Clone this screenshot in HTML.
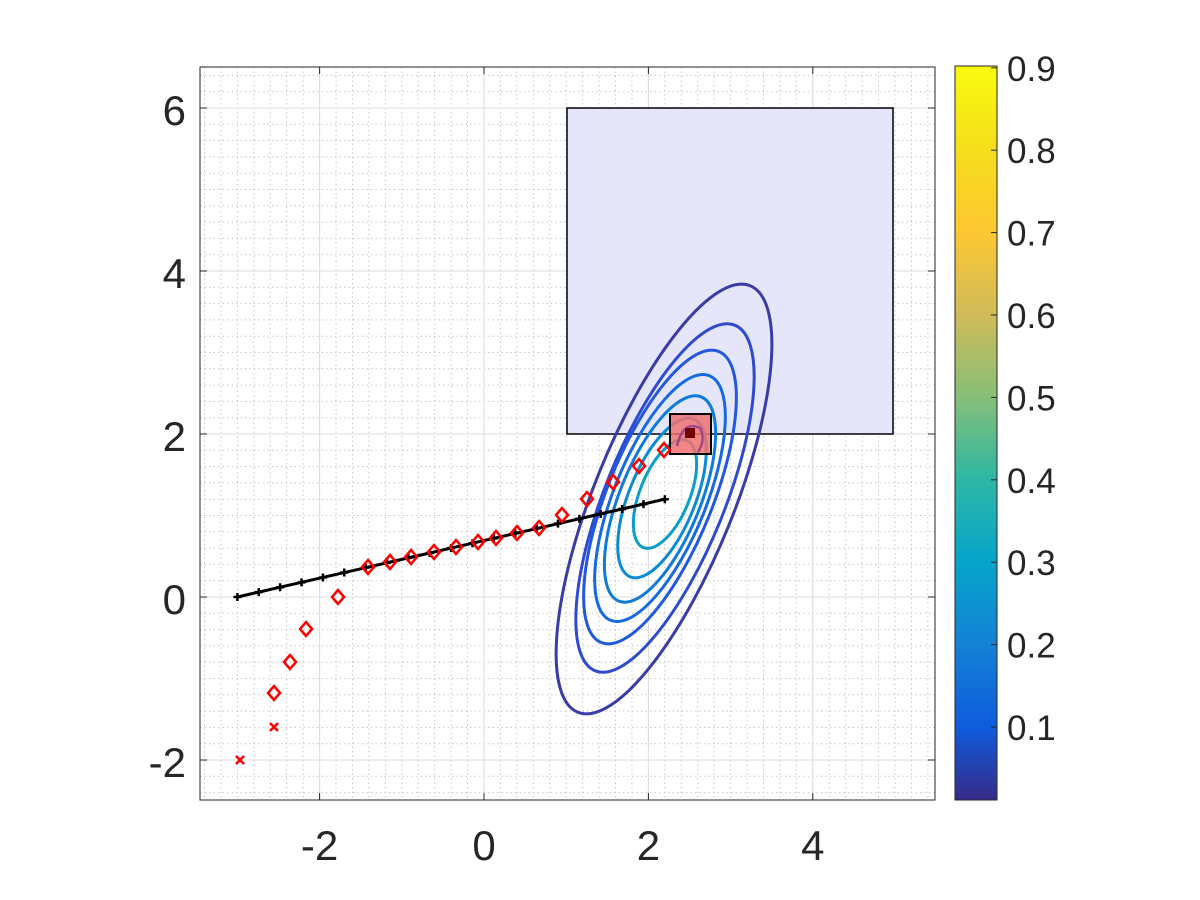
<!DOCTYPE html>
<html><head><meta charset="utf-8"><style>
html,body{margin:0;padding:0;background:#fff;}
svg{display:block;font-family:"Liberation Sans",Arial,sans-serif;}
</style></head><body>
<svg id="s" width="1200" height="900" viewBox="0 0 1200 900" xmlns="http://www.w3.org/2000/svg">
<defs>
<linearGradient id="par" x1="0" y1="1" x2="0" y2="0">
<stop offset="0" stop-color="#352a87"/>
<stop offset="0.10" stop-color="#0f5cdd"/>
<stop offset="0.21" stop-color="#1481d6"/>
<stop offset="0.325" stop-color="#06a4ca"/>
<stop offset="0.438" stop-color="#2eb7a4"/>
<stop offset="0.55" stop-color="#87bf77"/>
<stop offset="0.663" stop-color="#d1bb59"/>
<stop offset="0.775" stop-color="#fec832"/>
<stop offset="0.888" stop-color="#f5de1b"/>
<stop offset="1" stop-color="#f9fb0e"/>
</linearGradient>
</defs>
<rect x="200" y="67" width="735" height="733" fill="#fff"/>
<g id="grid"></g>
<rect x="567" y="108" width="326" height="326" fill="#e6e6fa" stroke="#000" stroke-width="1.5"/>
<g id="ell" fill="none" stroke-width="3"></g>
<rect x="670" y="414" width="41" height="40" fill="#f07070" fill-opacity="0.85" stroke="#000" stroke-width="2"/>
<path d="M677 446 Q683 420 700 428 Q706 440 698 452" fill="none" stroke="#8a3a8a" stroke-width="2.5" opacity="0.8"/>
<rect x="685" y="428" width="10" height="10" fill="#700000"/>
<g id="mk"></g>
<rect x="200" y="67" width="735" height="733" fill="none" stroke="#262626" stroke-width="1"/>
<g id="ticks" fill="#262626" font-size="42"></g>
<rect x="955" y="66" width="42" height="734" fill="url(#par)" stroke="#262626" stroke-width="1"/>
<g id="cb" fill="#262626" font-size="35"></g>
</svg>
<script>
const NS="http://www.w3.org/2000/svg";
function el(p,t,a,txt){const e=document.createElementNS(NS,t);for(const k in a)e.setAttribute(k,a[k]);if(txt!==undefined)e.textContent=txt;document.getElementById(p).appendChild(e);return e;}
const X=x=>484+82.2*x, Y=y=>597-81.5*y;
for(let i=-17;i<=27;i++){const x=X(i*0.2);if(x<=200||x>=935)continue;
 el("grid","line",{x1:x,y1:67,x2:x,y2:800,stroke:"#c8c8c8","stroke-width":1,"stroke-dasharray":"1.5,3"});}
for(let i=-12;i<=32;i++){const y=Y(i*0.2);if(y<=67||y>=800)continue;
 el("grid","line",{x1:200,y1:y,x2:935,y2:y,stroke:"#c8c8c8","stroke-width":1,"stroke-dasharray":"1.5,3"});}
for(const v of [-2,0,2,4]){el("grid","line",{x1:X(v),y1:67,x2:X(v),y2:800,stroke:"#dcdcdc","stroke-width":1});}
for(const v of [-2,0,2,4,6]){el("grid","line",{x1:200,y1:Y(v),x2:935,y2:Y(v),stroke:"#dcdcdc","stroke-width":1});}
const ext=[211,171,144,121,101,78,53];
const cols=["#3b3ba6","#2f4bcc","#2258dc","#1669df","#0f7ad9","#0c8ad2","#0a9ec8"];
const cx=[664,665,660,660,660,662,665], cy=[499,498,497,498,499,498,494];
ext.forEach((e,i)=>{const s=e/211;
 el("ell","ellipse",{cx:cx[i],cy:cy[i],rx:230*s,ry:70*Math.pow(s,0.75),transform:`rotate(-68 ${cx[i]} ${cy[i]})`,stroke:cols[i]});});
const pts=[];for(let i=0;i<=20;i++){const x=-3+5.2*i/20,y=1.2*i/20;pts.push([X(x),Y(y)]);}
el("mk","polyline",{points:pts.map(p=>p.join(",")).join(" "),fill:"none",stroke:"#000","stroke-width":3});
pts.forEach(p=>el("mk","path",{d:`M${p[0]-4} ${p[1]}H${p[0]+4}M${p[0]} ${p[1]-4}V${p[1]+4}`,stroke:"#000","stroke-width":2.5}));
const dm=[[274,693],[290,662],[306,629],[338,597],[368,567],[390,562],[411,557],[434,552],[456,547],[478,542],[496,538],[517,533],[539,528],[562,515],[587,499],[613,482],[639,466],[664,450]];
dm.forEach(p=>el("mk","polygon",{points:`${p[0]},${p[1]-7} ${p[0]+6},${p[1]} ${p[0]},${p[1]+7} ${p[0]-6},${p[1]}`,fill:"none",stroke:"#f00","stroke-width":2.5}));
[[240,760],[274,727]].forEach(p=>el("mk","path",{d:`M${p[0]-4} ${p[1]-4}L${p[0]+4} ${p[1]+4}M${p[0]+4} ${p[1]-4}L${p[0]-4} ${p[1]+4}`,stroke:"#f00","stroke-width":2.5}));
for(const v of [-2,0,2,4]){const x=X(v);
 el("ticks","line",{x1:x,y1:800,x2:x,y2:793,stroke:"#262626"});el("ticks","line",{x1:x,y1:67,x2:x,y2:74,stroke:"#262626"});
 el("ticks","text",{x:x,y:860,"text-anchor":"middle"},String(v));}
for(const v of [-2,0,2,4,6]){const y=Y(v);
 el("ticks","line",{x1:200,y1:y,x2:207,y2:y,stroke:"#262626"});el("ticks","line",{x1:935,y1:y,x2:928,y2:y,stroke:"#262626"});
 el("ticks","text",{x:186,y:y+17,"text-anchor":"end"},String(v));}
for(let k=1;k<=9;k++){const y=727-(k-1)*82.4;
 el("cb","line",{x1:997,y1:y,x2:991,y2:y,stroke:"#262626"});
 el("cb","text",{x:1007,y:y+13},"0."+k);}
</script>
</body></html>
